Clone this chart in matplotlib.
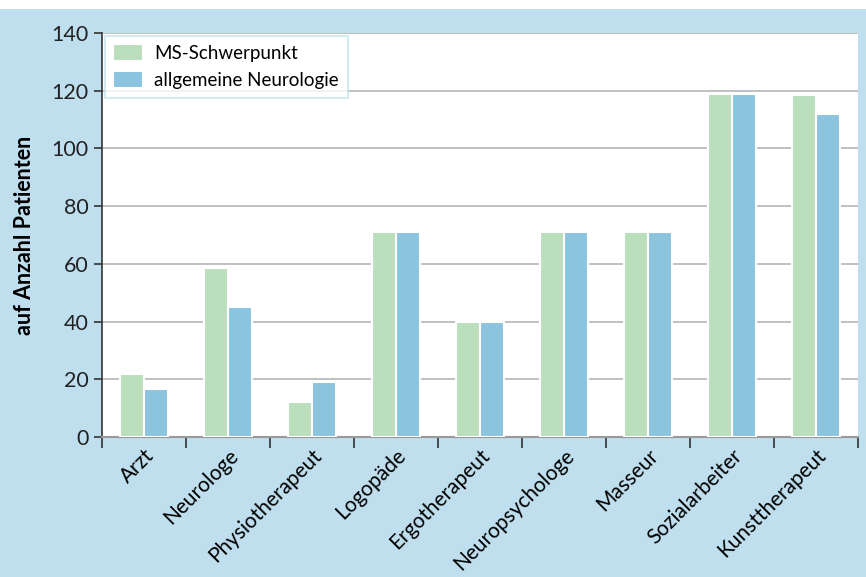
import numpy as np
import matplotlib.pyplot as plt

categories = ['Arzt', 'Neurologe', 'Physiotherapeut', 'Logopäde', 'Ergotherapeut',
              'Neuropsychologe', 'Masseur', 'Sozialarbeiter', 'Kunsttherapeut']
ms_schwerpunkt = [22, 58.5, 12, 71, 40, 71, 71, 119, 118.5]
allg_neurologie = [16.5, 45, 19, 71, 40, 71, 71, 119, 112]

bg = '#c0dfee'
green = '#bbdfbc'
blue = '#8bc4de'

plt.rcParams['font.family'] = ['Lato', 'DejaVu Sans']

fig = plt.figure(figsize=(8.66, 5.77), dpi=100)
fig.patch.set_facecolor('white')
# blue frame behind the chart
fig.patches.append(plt.Rectangle((0, 0), 1, 1 - 9 / 577, transform=fig.transFigure,
                                 facecolor=bg, edgecolor='none', zorder=-10))

ax = fig.add_axes([102 / 866, 1 - 437 / 577, (858 - 102) / 866, (437 - 33) / 577])
ax.set_facecolor('white')

x = np.arange(len(categories))
w = 0.28
ax.bar(x - w / 2, ms_schwerpunkt, w, color=green, edgecolor='white', linewidth=1.5,
       label='MS-Schwerpunkt', zorder=3)
ax.bar(x + w / 2, allg_neurologie, w, color=blue, edgecolor='white', linewidth=1.5,
       label='allgemeine Neurologie', zorder=3)

ax.set_xlim(-0.5, len(categories) - 0.5)
ax.set_ylim(0, 140)
ax.set_yticks(range(0, 141, 20))
ax.yaxis.grid(True, color='#b5b5b5', linewidth=1.2, zorder=0)
ax.set_axisbelow(True)

ax.set_xticks(x)
ax.set_xticklabels(categories, rotation=45, ha='right', rotation_mode='anchor', fontsize=15)
ax.set_xticks(np.arange(len(categories) + 1) - 0.5, minor=True)
ax.tick_params(axis='x', which='major', length=0, pad=6)
ax.tick_params(axis='x', which='minor', length=8, width=1.2, color='#333333')
ax.tick_params(axis='y', labelsize=15.5, length=6, width=1.2, color='#333333', labelcolor='#222222')

for s in ['top', 'right']:
    ax.spines[s].set_visible(False)
ax.spines['left'].set_color('#333333')
ax.spines['left'].set_linewidth(1.2)
ax.spines['bottom'].set_color('#999999')
ax.spines['bottom'].set_linewidth(1.5)

ax.set_ylabel('auf Anzahl Patienten', fontsize=15.5, fontweight='bold', labelpad=12)

leg = ax.legend(loc='upper left', fontsize=13.5, frameon=True, fancybox=False,
                borderaxespad=0.15, handlelength=1.6, handleheight=1.0,
                handletextpad=0.6, borderpad=0.45)
leg.get_frame().set_edgecolor(bg)
leg.get_frame().set_linewidth(1.2)

fig.savefig('out.png', dpi=100, facecolor=fig.get_facecolor())
